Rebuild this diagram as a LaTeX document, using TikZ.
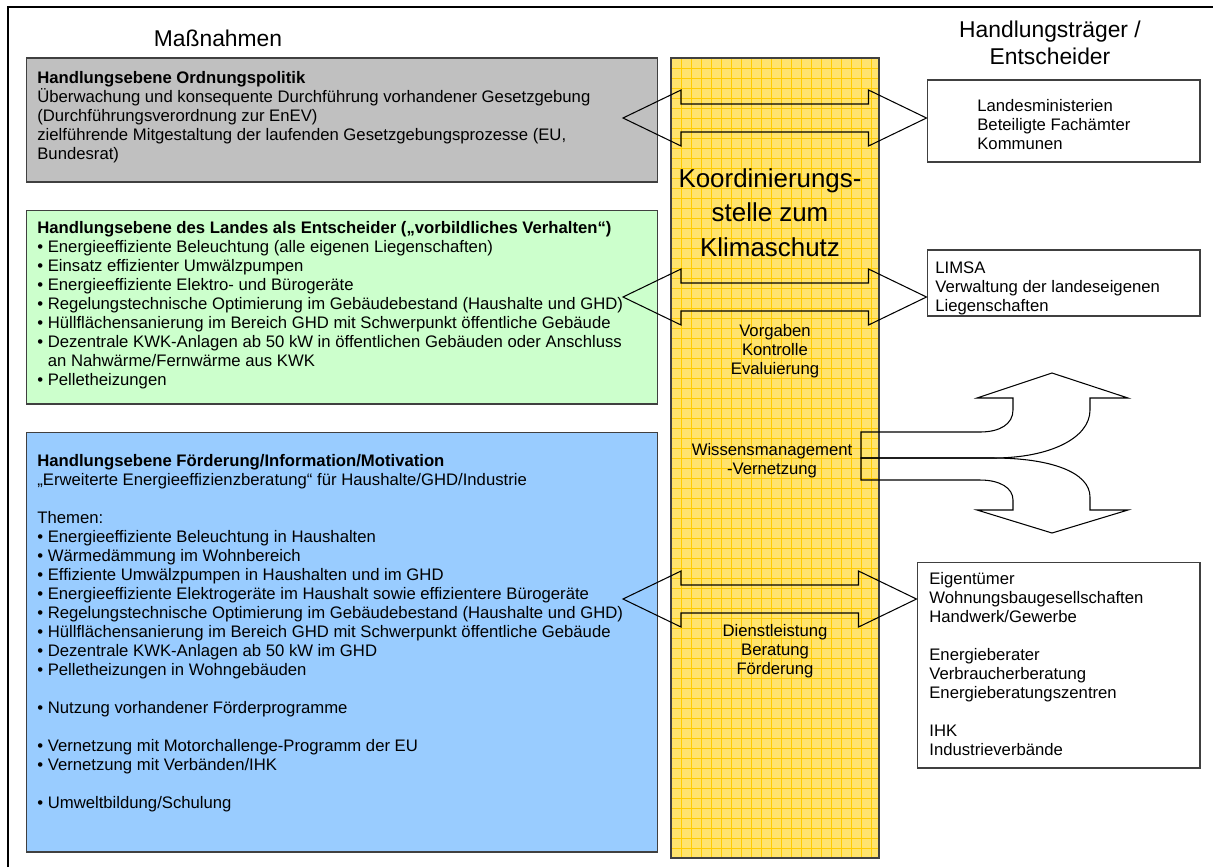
\documentclass[tikz,border=0pt]{standalone}
\usepackage{fontspec}
\setmainfont{Liberation Sans}
\usetikzlibrary{positioning,calc}

\definecolor{ordgray}{HTML}{C0C0C0}
\definecolor{landgreen}{HTML}{CCFFCC}
\definecolor{foerdblue}{HTML}{99CCFF}
\definecolor{koordyellow}{HTML}{FFE36E}
\definecolor{koordgrid}{HTML}{FFCC00}

% double block arrow between two points on one horizontal line
\newcommand\dblarrow[2]{%
  \draw[blk] (#1) -- ($(#1)+(58,-28)$) -- ($(#1)+(58,-14)$) -- ($(#2)+(-58,-14)$)
    -- ($(#2)+(-58,-28)$) -- (#2) -- ($(#2)+(-58,28)$) -- ($(#2)+(-58,14)$)
    -- ($(#1)+(58,14)$) -- ($(#1)+(58,28)$) -- cycle;}

\begin{document}
\begin{tikzpicture}[x=0.02cm,y=-0.02cm,
  box/.style={draw=black!75,line width=0.6pt,inner sep=0pt},
  % multi-line texts are placed by the baseline of their last line
  txt/.style={font=\fontsize{9.5}{10.8}\selectfont,align=left,anchor=base west,inner sep=0pt},
  ctxt/.style={font=\fontsize{9.5}{10.8}\selectfont,align=center,anchor=base,inner sep=0pt},
  head/.style={font=\fontsize{13}{15}\selectfont,align=center,anchor=base,inner sep=0pt},
  blk/.style={draw,line width=0.6pt,line join=miter},
  gridln/.style={draw=koordgrid,line width=0.4pt},
]
\useasboundingbox (0,0) rectangle (1213,867);

% === Frame ===
\draw[line width=1.4pt] (8,867) -- (8,7) -- (1213,7);

% === Headings ===
\node[head] (massn) at (218,46) {Maßnahmen};
\node[head] (traeger) at (1050,64) {Handlungsträger /\\Entscheider};

% === Action levels (left) ===
\node[box,fill=ordgray,minimum width=12.64cm,minimum height=2.48cm] (ord) at (342,120) {};
\node[box,fill=landgreen,minimum width=12.64cm,minimum height=3.88cm] (land) at (342,307) {};
\node[box,fill=foerdblue,minimum width=12.64cm,minimum height=8.4cm] (foerd) at (342,642) {};

% === Coordination column ===
\node[box,fill=koordyellow,minimum width=4.16cm,minimum height=16cm] (koord) at (775,458) {};
\foreach \gx in {681,691,...,871}
  \draw[gridln] (\gx,59) -- (\gx,857);
\foreach \gy in {68,78,...,848}
  \draw[gridln] (672,\gy) -- (878,\gy);
\draw[draw=black!75,line width=0.6pt] (koord.south west) rectangle (koord.north east);

% === Actors (right) ===
\node[box,fill=white,minimum width=5.46cm,minimum height=1.64cm] (r1) at (1063.5,121) {};
\node[box,fill=white,minimum width=5.46cm,minimum height=1.32cm] (r2) at (1063.5,283) {};
\node[box,fill=white,minimum width=5.66cm,minimum height=4.12cm] (r3) at (1058.5,665) {};

% === Block arrows ===
\coordinate (o1) at (623,118);
\coordinate (o2) at (623,297);
\coordinate (o3) at (623,599);
\coordinate (t1) at (r1.west |- o1);
\coordinate (t2) at (r2.west |- o2);
\coordinate (t3) at (r3.west |- o3);
\dblarrow{o1}{t1}
\dblarrow{o2}{t2}
\dblarrow{o3}{t3}

% split arrow out of the knowledge management
\coordinate (wm) at (861,458);
\draw[blk] (wm) -- (993,458) .. controls (1050,458) and (1090,438) .. (1090,410)
  -- (1090,398) -- (1128,398) -- (1052,373) -- (977,398) -- (1013,398) -- (1013,410)
  .. controls (1013,424) and (1000,432) .. (980,432) -- (861,432) -- cycle;
\draw[blk] (wm) -- (993,458) .. controls (1050,458) and (1090,472) .. (1090,497)
  -- (1090,510) -- (1128,510) -- (1052,533) -- (977,510) -- (1013,510) -- (1013,500)
  .. controls (1013,488) and (1000,480) .. (980,480) -- (861,480) -- cycle;

% === Texts in the column ===
\node[font=\fontsize{14.75}{19.6}\selectfont,align=center,anchor=base,inner sep=0pt] (ktitle)
  at (770,256) {Koordinierungs-\\stelle zum\\Klimaschutz};
\node[ctxt] (vorg) at (775,374) {Vorgaben\\Kontrolle\\Evaluierung};
\node[ctxt] (wiss) at (772,474) {Wissensmanagement\\-Vernetzung};
\node[ctxt] (dienst) at (775,674) {Dienstleistung\\Beratung\\Förderung};

% === Texts of the action levels ===
\node[txt] (ordtxt) at (37,159) {\textbf{Handlungsebene Ordnungspolitik}\\
Überwachung und konsequente Durchführung vorhandener Gesetzgebung\\
(Durchführungsverordnung zur EnEV)\\
zielführende Mitgestaltung der laufenden Gesetzgebungsprozesse (EU,\\
Bundesrat)};

\node[txt] (landtxt) at (37,385) {\textbf{Handlungsebene des Landes als Entscheider („vorbildliches Verhalten“)}\\
• Energieeffiziente Beleuchtung (alle eigenen Liegenschaften)\\
• Einsatz effizienter Umwälzpumpen\\
• Energieeffiziente Elektro- und Bürogeräte\\
• Regelungstechnische Optimierung im Gebäudebestand (Haushalte und GHD)\\
• Hüllflächensanierung im Bereich GHD mit Schwerpunkt öffentliche Gebäude\\
• Dezentrale KWK-Anlagen ab 50 kW in öffentlichen Gebäuden oder Anschluss\\
\phantom{• }an Nahwärme/Fernwärme aus KWK\\
• Pelletheizungen};

\node[txt] (foerdtxt) at (37,808) {\textbf{Handlungsebene Förderung/Information/Motivation}\\
„Erweiterte Energieeffizienzberatung“ für Haushalte/GHD/Industrie\\[10.8pt]
Themen:\\
• Energieeffiziente Beleuchtung in Haushalten\\
• Wärmedämmung im Wohnbereich\\
• Effiziente Umwälzpumpen in Haushalten und im GHD\\
• Energieeffiziente Elektrogeräte im Haushalt sowie effizientere Bürogeräte\\
• Regelungstechnische Optimierung im Gebäudebestand (Haushalte und GHD)\\
• Hüllflächensanierung im Bereich GHD mit Schwerpunkt öffentliche Gebäude\\
• Dezentrale KWK-Anlagen ab 50 kW im GHD\\
• Pelletheizungen in Wohngebäuden\\[10.8pt]
• Nutzung vorhandener Förderprogramme\\[10.8pt]
• Vernetzung mit Motorchallenge-Programm der EU\\
• Vernetzung mit Verbänden/IHK\\[10.8pt]
• Umweltbildung/Schulung};

% === Texts of the actors ===
\node[txt] (r1txt) at (977,149) {Landesministerien\\Beteiligte Fachämter\\Kommunen};
\node[txt] (r2txt) at (935,311) {LIMSA\\Verwaltung der landeseigenen\\Liegenschaften};
\node[txt] (r3txt) at (929,755) {Eigentümer\\Wohnungsbaugesellschaften\\Handwerk/Gewerbe\\[10.8pt]
Energieberater\\Verbraucherberatung\\Energieberatungszentren\\[10.8pt]
IHK\\Industrieverbände};

\end{tikzpicture}
\end{document}
